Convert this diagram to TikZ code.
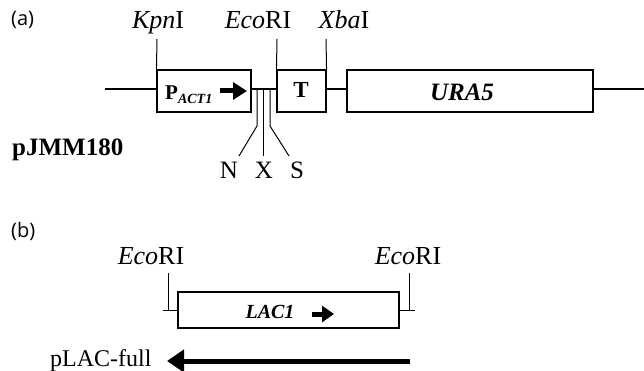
\documentclass[tikz,border=0pt]{standalone}
\usepackage{fontspec}
\setmainfont{Liberation Serif}
\newfontfamily\panelfont{Open Sans}
\usetikzlibrary{arrows.meta}
\tikzset{
  x=1pt,y=-1pt,
  gene/.style={draw,line width=1.1pt},
  backbone/.style={line width=2pt},
  site/.style={line width=1pt},
  sitelabel/.style={anchor=base,inner sep=0pt,font=\fontsize{26}{26}\selectfont},
  panel/.style={anchor=base west,inner sep=0pt,font=\panelfont\fontsize{20}{20}\selectfont},
  fatarrow/.style={line width=5pt,-{Triangle[length=14pt,width=17pt]}},
}
\begin{document}
\begin{tikzpicture}
\useasboundingbox (0,0) rectangle (644,371);
% ---------------- (a)
\node[panel] (pa) at (11,26) {(a)};
\node[gene,minimum width=94pt,minimum height=42pt,inner sep=0pt] (pact) at (204,91) {};
\node[gene,minimum width=49pt,minimum height=42pt,inner sep=0pt] (term) at (301.5,91) {};
\node[gene,minimum width=246pt,minimum height=42pt,inner sep=0pt] (ura) at (470,91) {};
\node[anchor=base,inner sep=0pt,font=\fontsize{21}{21}\selectfont\bfseries] (ptxt) at (189,100) {P\textsubscript{\fontsize{14}{14}\selectfont\itshape ACT1}};
\node[anchor=base,inner sep=0pt,font=\fontsize{23}{23}\selectfont\bfseries] (ttxt) at (301,98) {T};
\node[anchor=base,inner sep=0pt,font=\fontsize{25}{25}\selectfont\bfseries\itshape] (utxt) at (462,101) {URA5};
\coordinate (bbL) at (105,89);
\coordinate (bbR) at (644,89);
\draw[backbone] (bbL) -- (pact.west |- bbL);
\draw[line width=2.6pt] (pact.east |- bbL) -- (term.west |- bbL);
\draw[backbone] (term.east |- bbL) -- (ura.west |- bbL);
\draw[backbone] (ura.east |- bbL) -- (bbR);
\coordinate (pa1) at (220,91);
\coordinate (pa2) at (247,91);
\draw[fatarrow] (pa1) -- (pa2);
% sites
\node[sitelabel] (kpn) at (158,29) {\textit{Kpn}I};
\node[sitelabel] (eco) at (258,29) {\textit{Eco}RI};
\node[sitelabel] (xba) at (344,29) {\textit{Xba}I};
\coordinate (kt) at (157,39);
\coordinate (et) at (277,39);
\coordinate (xt) at (326,39);
\draw[site] (kt) -- (pact.north west);
\draw[site] (et) -- (term.north west);
\draw[site] (xt) -- (term.north east);
% N X S
\node[sitelabel,font=\fontsize{25}{25}\selectfont] (nn) at (229,179) {N};
\node[sitelabel,font=\fontsize{25}{25}\selectfont] (xx) at (264,179) {X};
\node[sitelabel,font=\fontsize{25}{25}\selectfont] (ss) at (297,179) {S};
\coordinate (n0) at (257,89);
\coordinate (x0) at (263.5,89);
\coordinate (s0) at (270,89);
\draw[site] (n0) -- (257,126) -- (239,156);
\draw[site] (x0) -- (263.5,156);
\draw[site] (s0) -- (270,126) -- (289,156);
\node[anchor=base west,inner sep=0pt,font=\fontsize{25}{25}\selectfont\bfseries] (pj) at (12,156) {pJMM180};
% ---------------- (b)
\node[panel] (pb) at (11,237) {(b)};
\node[gene,minimum width=221pt,minimum height=36pt,inner sep=0pt] (lac) at (288.5,310) {};
\node[anchor=base,inner sep=0pt,font=\fontsize{20}{20}\selectfont\bfseries\itshape] (ltxt) at (270,318) {LAC1};
\coordinate (la1) at (312,314);
\coordinate (la2) at (334,314);
\draw[line width=5pt,-{Triangle[length=12pt,width=16pt]}] (la1) -- (la2);
\node[sitelabel] (ecoL) at (151,264) {\textit{Eco}RI};
\node[sitelabel] (ecoR) at (408,264) {\textit{Eco}RI};
\coordinate (lt) at (168,273);
\coordinate (ll) at (163,310);
\coordinate (rt) at (409,273);
\coordinate (rr) at (415,310);
\draw[site] (lt) -- (lt |- ll) ;
\draw[site] (ll) -- (lac.west);
\draw[site] (rt) -- (rt |- rr);
\draw[site] (lac.east) -- (rr);
\node[anchor=base west,inner sep=0pt,font=\fontsize{24}{24}\selectfont] (plac) at (50,366) {pLAC-full};
\coordinate (fa1) at (410,361);
\coordinate (fa2) at (167,361);
\draw[line width=5pt,-{Triangle[length=17pt,width=22pt]}] (fa1) -- (fa2);
\end{tikzpicture}
\end{document}
